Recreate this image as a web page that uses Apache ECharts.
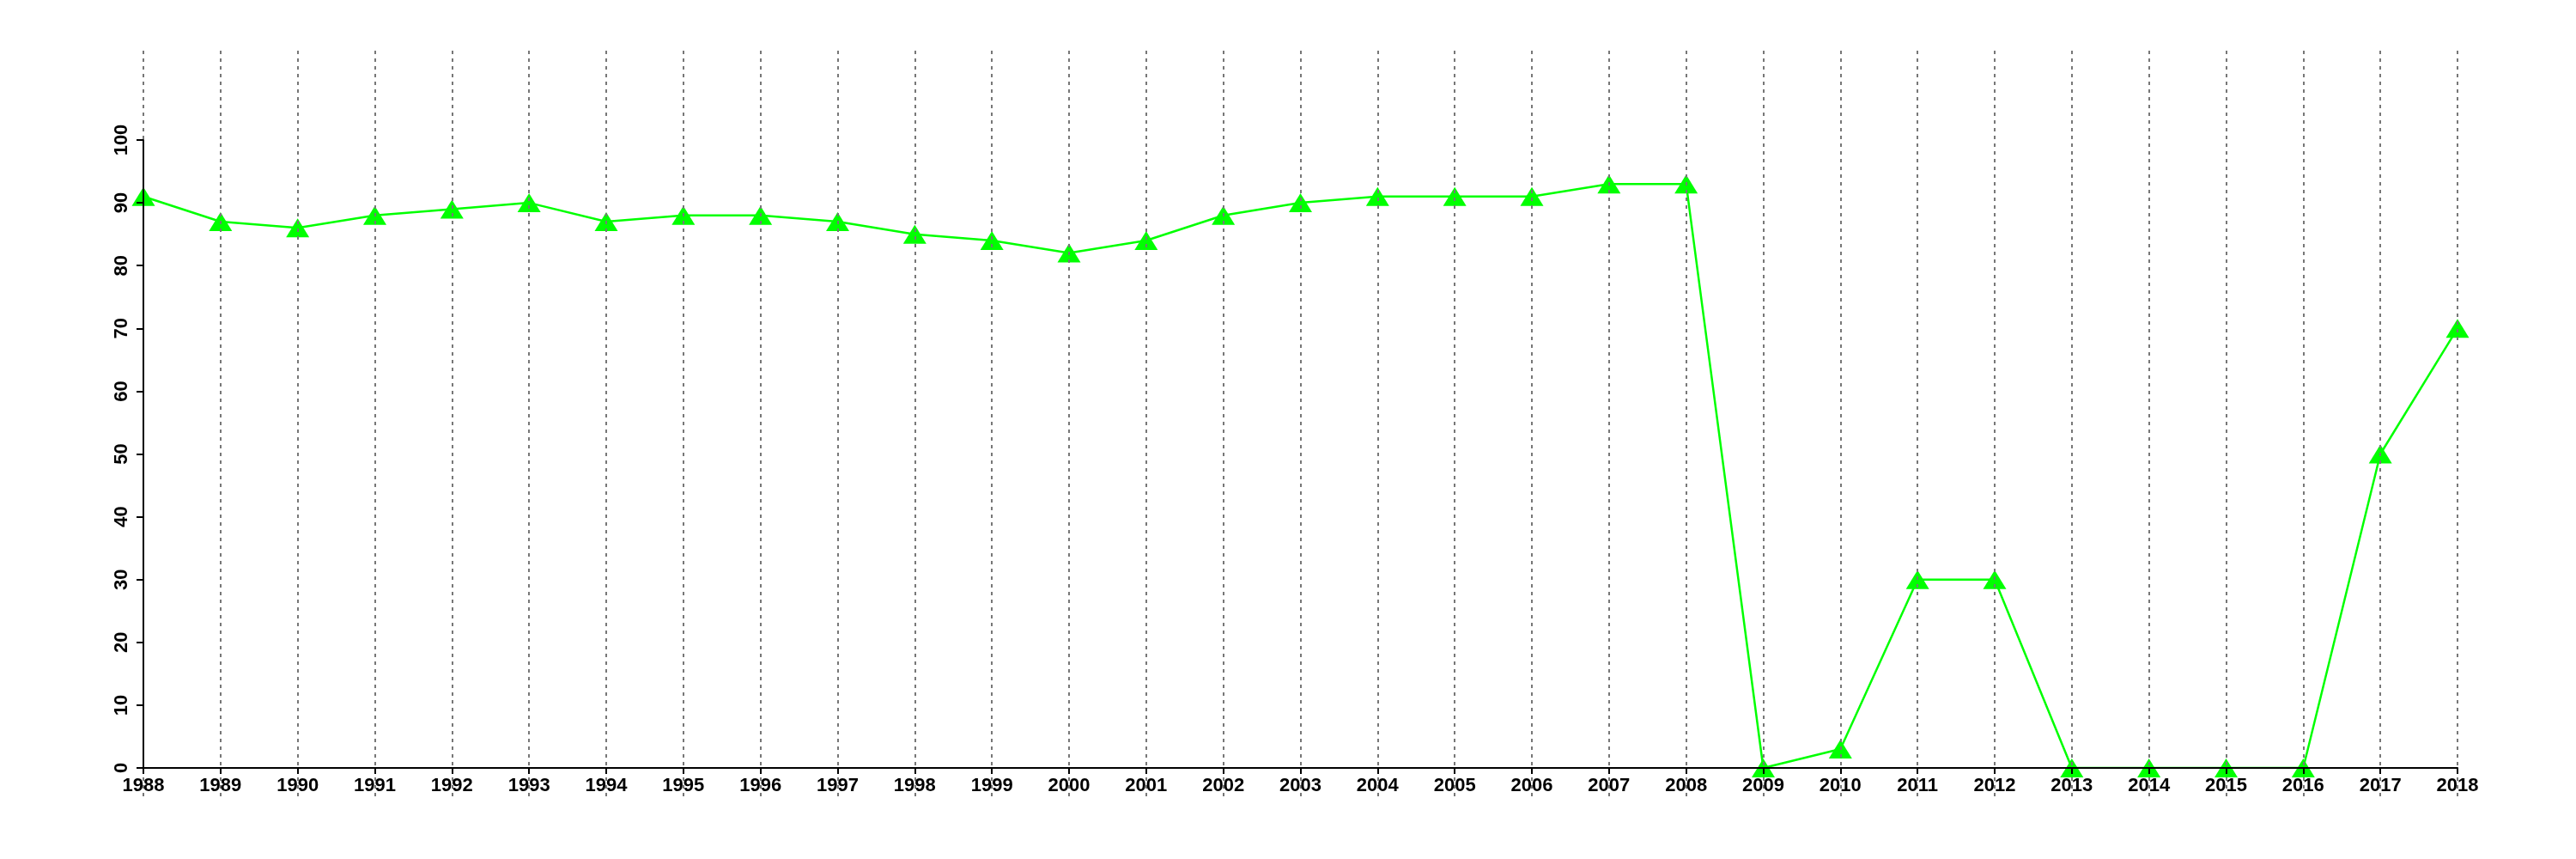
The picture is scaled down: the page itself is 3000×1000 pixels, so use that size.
<!DOCTYPE html>
<html>
<head>
<meta charset="utf-8">
<script src="https://cdn.jsdelivr.net/npm/echarts@6/dist/echarts.min.js"></script>
<style>html,body{margin:0;padding:0;background:#fff}#c{width:3000px;height:1000px}</style>
</head>
<body>
<div id="c"></div>
<script>
var years = ['1988','1989','1990','1991','1992','1993','1994','1995','1996','1997','1998','1999','2000','2001','2002','2003','2004','2005','2006','2007','2008','2009','2010','2011','2012','2013','2014','2015','2016','2017','2018'];
var values = [91,87,86,88,89,90,87,88,88,87,85,84,82,84,88,90,91,91,91,93,93,0,3,30,30,0,0,0,0,50,70];
var yMin = 0, yMax = 100, yStep = 10;

var chart = echarts.init(document.getElementById('c'), null, {renderer: 'canvas'});
var font = 'Liberation Sans, Arial, Helvetica, sans-serif';
chart.setOption({
  backgroundColor: '#ffffff',
  animation: false,
  grid: [
    {left: 167, right: 138, top: 163, bottom: 106, containLabel: false},
    {left: 167, right: 138, top: 59, bottom: 73, containLabel: false}
  ],
  xAxis: [
    {
      type: 'category', gridIndex: 0, data: years, boundaryGap: false, z: 12,
      axisLine: {show: true, onZero: false, lineStyle: {color: '#000', width: 2}},
      axisTick: {show: true, inside: false, length: 7, alignWithLabel: true, lineStyle: {color: '#000', width: 2}},
      axisLabel: {show: true, interval: 0, margin: 10, color: '#000', fontSize: 22, fontWeight: 'bold', fontFamily: font},
      splitLine: {show: false}
    },
    {
      type: 'category', gridIndex: 1, data: years, boundaryGap: false, z: 10,
      axisLine: {show: false}, axisTick: {show: false}, axisLabel: {show: false},
      splitLine: {show: true, interval: 0, lineStyle: {color: '#777777', width: 2, type: [4, 5]}}
    }
  ],
  yAxis: [
    {
      type: 'value', gridIndex: 0, min: yMin, max: yMax, interval: yStep, z: 12,
      axisLine: {show: true, lineStyle: {color: '#000', width: 2}},
      axisTick: {show: true, inside: false, length: 8, lineStyle: {color: '#000', width: 2}},
      axisLabel: {show: true, rotate: 90, margin: 14, color: '#000', fontSize: 22, fontWeight: 'bold', fontFamily: font},
      splitLine: {show: false}
    },
    {
      type: 'value', gridIndex: 1, min: 0, max: 1, show: false, splitLine: {show: false}
    }
  ],
  series: [
    {
      type: 'line', xAxisIndex: 0, yAxisIndex: 0, data: values,
      symbol: 'triangle', symbolSize: [27, 22], showAllSymbol: true,
      lineStyle: {color: '#00ff00', width: 2.5},
      itemStyle: {color: '#00ff00', borderWidth: 0},
      z: 3
    }
  ]
});
</script>
</body>
</html>
